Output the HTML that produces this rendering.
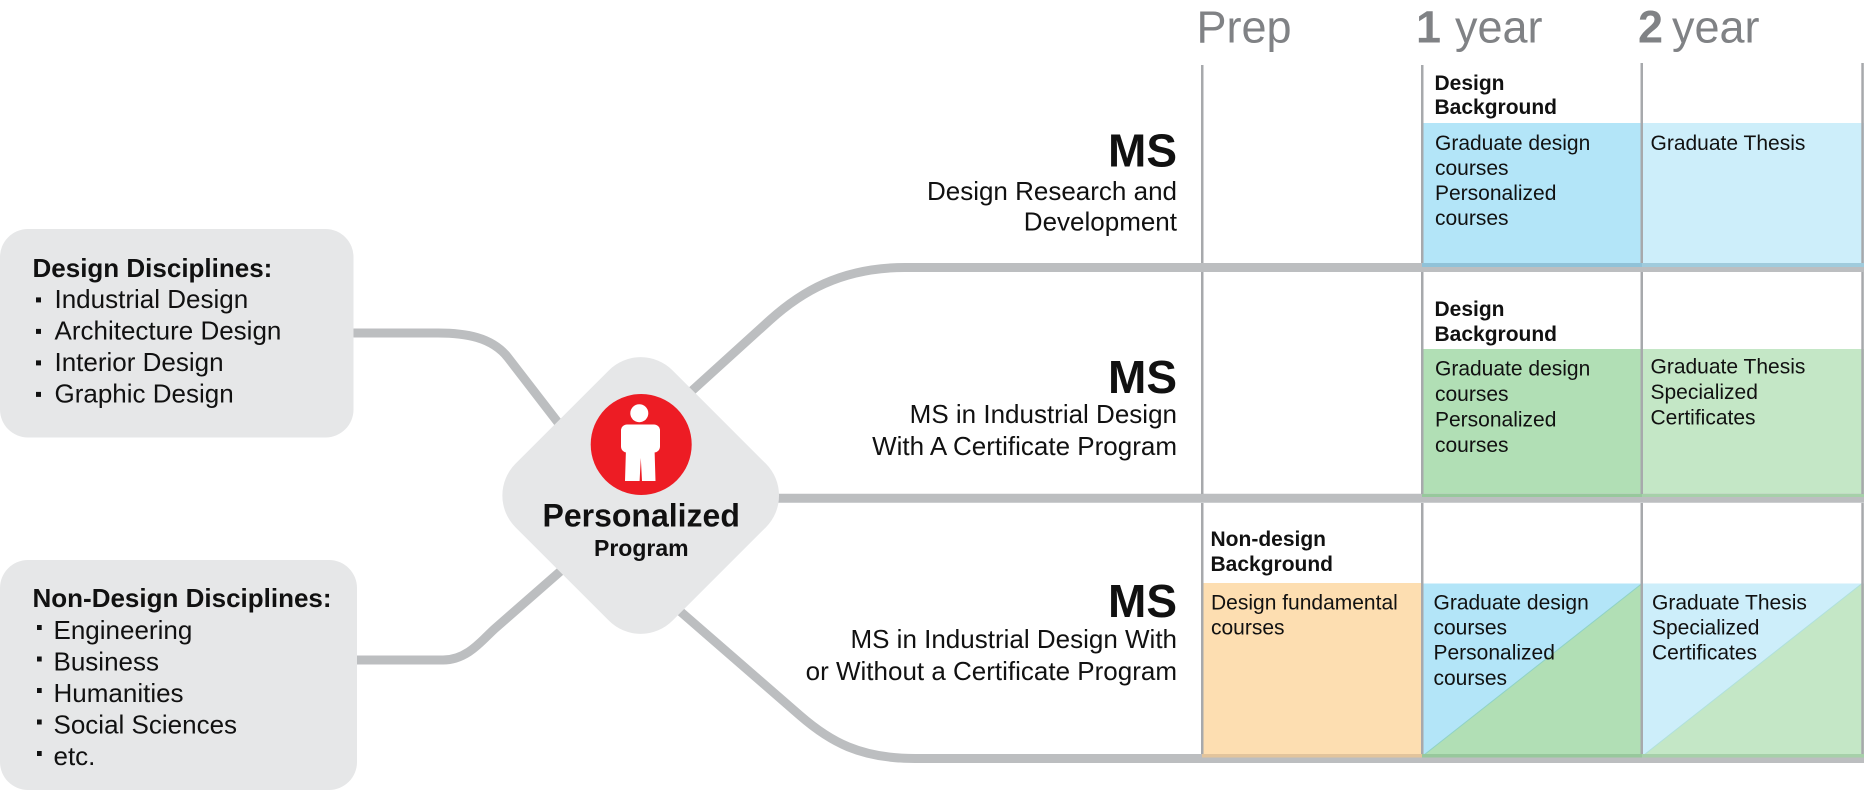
<!DOCTYPE html>
<html>
<head>
<meta charset="utf-8">
<style>
html,body{margin:0;padding:0;background:#fff;}
svg{display:block;}
text{font-family:"Liberation Sans",Arial,sans-serif;}
</style>
</head>
<body>
<svg width="1864" height="792" viewBox="0 0 1864 792" xmlns="http://www.w3.org/2000/svg">
<rect width="1864" height="792" fill="#fff"/>

<!-- cells row 1 -->
<rect x="1422" y="123" width="220" height="144" fill="#b3e5f8"/>
<rect x="1642" y="123" width="222" height="144" fill="#cdeefa"/>
<!-- cells row 2 -->
<rect x="1422" y="349" width="220" height="150" fill="#b1dfb5"/>
<rect x="1642" y="349" width="222" height="150" fill="#c4e7c6"/>
<!-- cells row 3 -->
<rect x="1202" y="583" width="220" height="175" fill="#fddeb1"/>
<rect x="1422" y="583.5" width="220" height="175" fill="#b1dfb5"/>
<polygon points="1422,583.5 1642,583.5 1422,756.5" fill="#b3e5f8"/>
<line x1="1642" y1="583.5" x2="1422" y2="756.5" stroke="#8fd2c6" stroke-width="1"/>
<rect x="1642" y="583.5" width="222" height="175" fill="#c4e7c6"/>
<polygon points="1642,583.5 1862,583.5 1642,756.5" fill="#cdeefa"/>
<line x1="1862" y1="583.5" x2="1642" y2="756.5" stroke="#b0e0dc" stroke-width="1"/>

<!-- connectors -->
<g fill="none" stroke="#bcbec0" stroke-width="9">
  <path d="M340 333 H438 C465 333 492 337 508 357.6 L600 477"/>
  <path d="M340 660 H443 C468 660 483 639 495 628.5 L600 536.6"/>
  <path d="M650 428.8 L770 320 C800 293 840 267.5 905 267.5 H1864"/>
  <path d="M700 498.3 H1864"/>
  <path d="M620 559 L800 715.5 C830 741.6 860 758.5 915 758.5 H1864"/>
</g>

<!-- darker strips at cell bottoms -->
<rect x="1422" y="263" width="220" height="4" fill="#90c2d8"/>
<rect x="1642" y="263" width="222" height="4" fill="#a0cbdc"/>
<rect x="1422" y="494" width="220" height="3" fill="#97c89c"/>
<rect x="1642" y="494" width="222" height="3" fill="#a6d0a9"/>
<rect x="1202" y="754" width="220" height="3.5" fill="#e2c49c"/>
<rect x="1422" y="754" width="220" height="3.5" fill="#97c89c"/>
<rect x="1642" y="754" width="222" height="3.5" fill="#a6d0a9"/>

<!-- vertical grid lines -->
<g fill="#a7a9ac">
  <rect x="1201" y="65" width="2.5" height="198"/>
  <rect x="1201" y="272" width="2.5" height="222"/>
  <rect x="1201" y="503" width="2.5" height="251"/>
  <rect x="1421" y="65" width="2.5" height="198"/>
  <rect x="1421" y="272" width="2.5" height="222"/>
  <rect x="1421" y="503" width="2.5" height="251"/>
  <rect x="1640.5" y="63" width="2.5" height="200"/>
  <rect x="1640.5" y="272" width="2.5" height="222"/>
  <rect x="1640.5" y="503" width="2.5" height="251"/>
  <rect x="1861.3" y="63" width="2.5" height="200"/>
  <rect x="1861.3" y="272" width="2.5" height="222"/>
  <rect x="1861.3" y="503" width="2.5" height="251"/>
</g>

<!-- left boxes -->
<rect x="0" y="229" width="353.5" height="208.5" rx="28" fill="#e6e7e8"/>
<rect x="0" y="560" width="357" height="230" rx="28" fill="#e6e7e8"/>

<!-- diamond -->
<rect x="-111" y="-111" width="222" height="222" rx="45" fill="#e6e7e8" transform="translate(640.7 495.5) rotate(45)"/>
<circle cx="641.2" cy="444.5" r="50.5" fill="#ed1c24"/>
<circle cx="639.3" cy="413.2" r="9" fill="#fff"/>
<rect x="621" y="424.5" width="39" height="28" rx="6" fill="#fff"/>
<path d="M626 448 L654.5 448 L655.5 481 L642 481 L640.8 458 L639.6 481 L625 481 Z" fill="#fff"/>
<text x="641.2" y="526.7" font-size="32" font-weight="bold" text-anchor="middle" fill="#111">Personalized</text>
<text x="641.3" y="556" font-size="23" font-weight="bold" text-anchor="middle" fill="#111">Program</text>

<!-- left box 1 text -->
<g fill="#111" font-size="26">
  <text x="32.5" y="277" font-weight="bold">Design Disciplines:</text>
  <text x="54.5" y="308">Industrial Design</text>
  <text x="54.5" y="339.5">Architecture Design</text>
  <text x="54.5" y="371">Interior Design</text>
  <text x="54.5" y="402.5">Graphic Design</text>
  <rect x="36" y="297.4" width="5" height="5"/>
  <rect x="36" y="328.9" width="5" height="5"/>
  <rect x="36" y="360.4" width="5" height="5"/>
  <rect x="36" y="391.9" width="5" height="5"/>

  <text x="32.5" y="607" font-weight="bold">Non-Design Disciplines:</text>
  <text x="53.5" y="639">Engineering</text>
  <text x="53.5" y="670.5">Business</text>
  <text x="53.5" y="702">Humanities</text>
  <text x="53.5" y="733.5">Social Sciences</text>
  <text x="53.5" y="765">etc.</text>
  <rect x="37" y="625" width="4.7" height="5"/>
  <rect x="37" y="656.5" width="4.7" height="5"/>
  <rect x="37" y="688" width="4.7" height="5"/>
  <rect x="37" y="719.5" width="4.7" height="5"/>
  <rect x="37" y="751" width="4.7" height="5"/>
</g>

<!-- headers -->
<g font-size="45" fill="#808285">
  <text x="1196.5" y="42.3">Prep</text>
  <text x="1416" y="42.3" font-weight="bold">1</text>
  <text x="1455" y="42.3">year</text>
  <text x="1638" y="42.3" font-weight="bold">2</text>
  <text x="1672" y="42.3">year</text>
</g>

<!-- MS labels -->
<g fill="#111" text-anchor="end">
  <text x="1177" y="166.7" font-size="46" font-weight="bold">MS</text>
  <text x="1177" y="200" font-size="26">Design Research and</text>
  <text x="1177" y="230.5" font-size="26">Development</text>

  <text x="1177" y="393" font-size="46" font-weight="bold">MS</text>
  <text x="1177" y="423" font-size="26">MS in Industrial Design</text>
  <text x="1177" y="455" font-size="26">With A Certificate Program</text>

  <text x="1177" y="617" font-size="46" font-weight="bold">MS</text>
  <text x="1177" y="648" font-size="26">MS in Industrial Design With</text>
  <text x="1177" y="680" font-size="26">or Without a Certificate Program</text>
</g>

<!-- cell texts -->
<g fill="#111" font-size="21">
  <!-- row 1 -->
  <text x="1434.5" y="90" font-weight="bold">Design</text>
  <text x="1434.5" y="114" font-weight="bold">Background</text>
  <text x="1435" y="150">Graduate design</text>
  <text x="1435" y="175">courses</text>
  <text x="1435" y="200">Personalized</text>
  <text x="1435" y="225">courses</text>
  <text x="1650.5" y="150">Graduate Thesis</text>

  <!-- row 2 -->
  <text x="1434.5" y="315.8" font-weight="bold">Design</text>
  <text x="1434.5" y="340.8" font-weight="bold">Background</text>
  <text x="1435" y="375.5">Graduate design</text>
  <text x="1435" y="401">courses</text>
  <text x="1435" y="426.5">Personalized</text>
  <text x="1435" y="452">courses</text>
  <text x="1650.5" y="373.5">Graduate Thesis</text>
  <text x="1650.5" y="399">Specialized</text>
  <text x="1650.5" y="424.5">Certificates</text>

  <!-- row 3 -->
  <text x="1210.5" y="546" font-weight="bold">Non-design</text>
  <text x="1210.5" y="571" font-weight="bold">Background</text>
  <text x="1211" y="609.5">Design fundamental</text>
  <text x="1211" y="634.5">courses</text>
  <text x="1433.5" y="609.5">Graduate design</text>
  <text x="1433.5" y="634.5">courses</text>
  <text x="1433.5" y="659.5">Personalized</text>
  <text x="1433.5" y="685">courses</text>
  <text x="1652" y="609.5">Graduate Thesis</text>
  <text x="1652" y="634.5">Specialized</text>
  <text x="1652" y="659.5">Certificates</text>
</g>
</svg>
</body>
</html>
